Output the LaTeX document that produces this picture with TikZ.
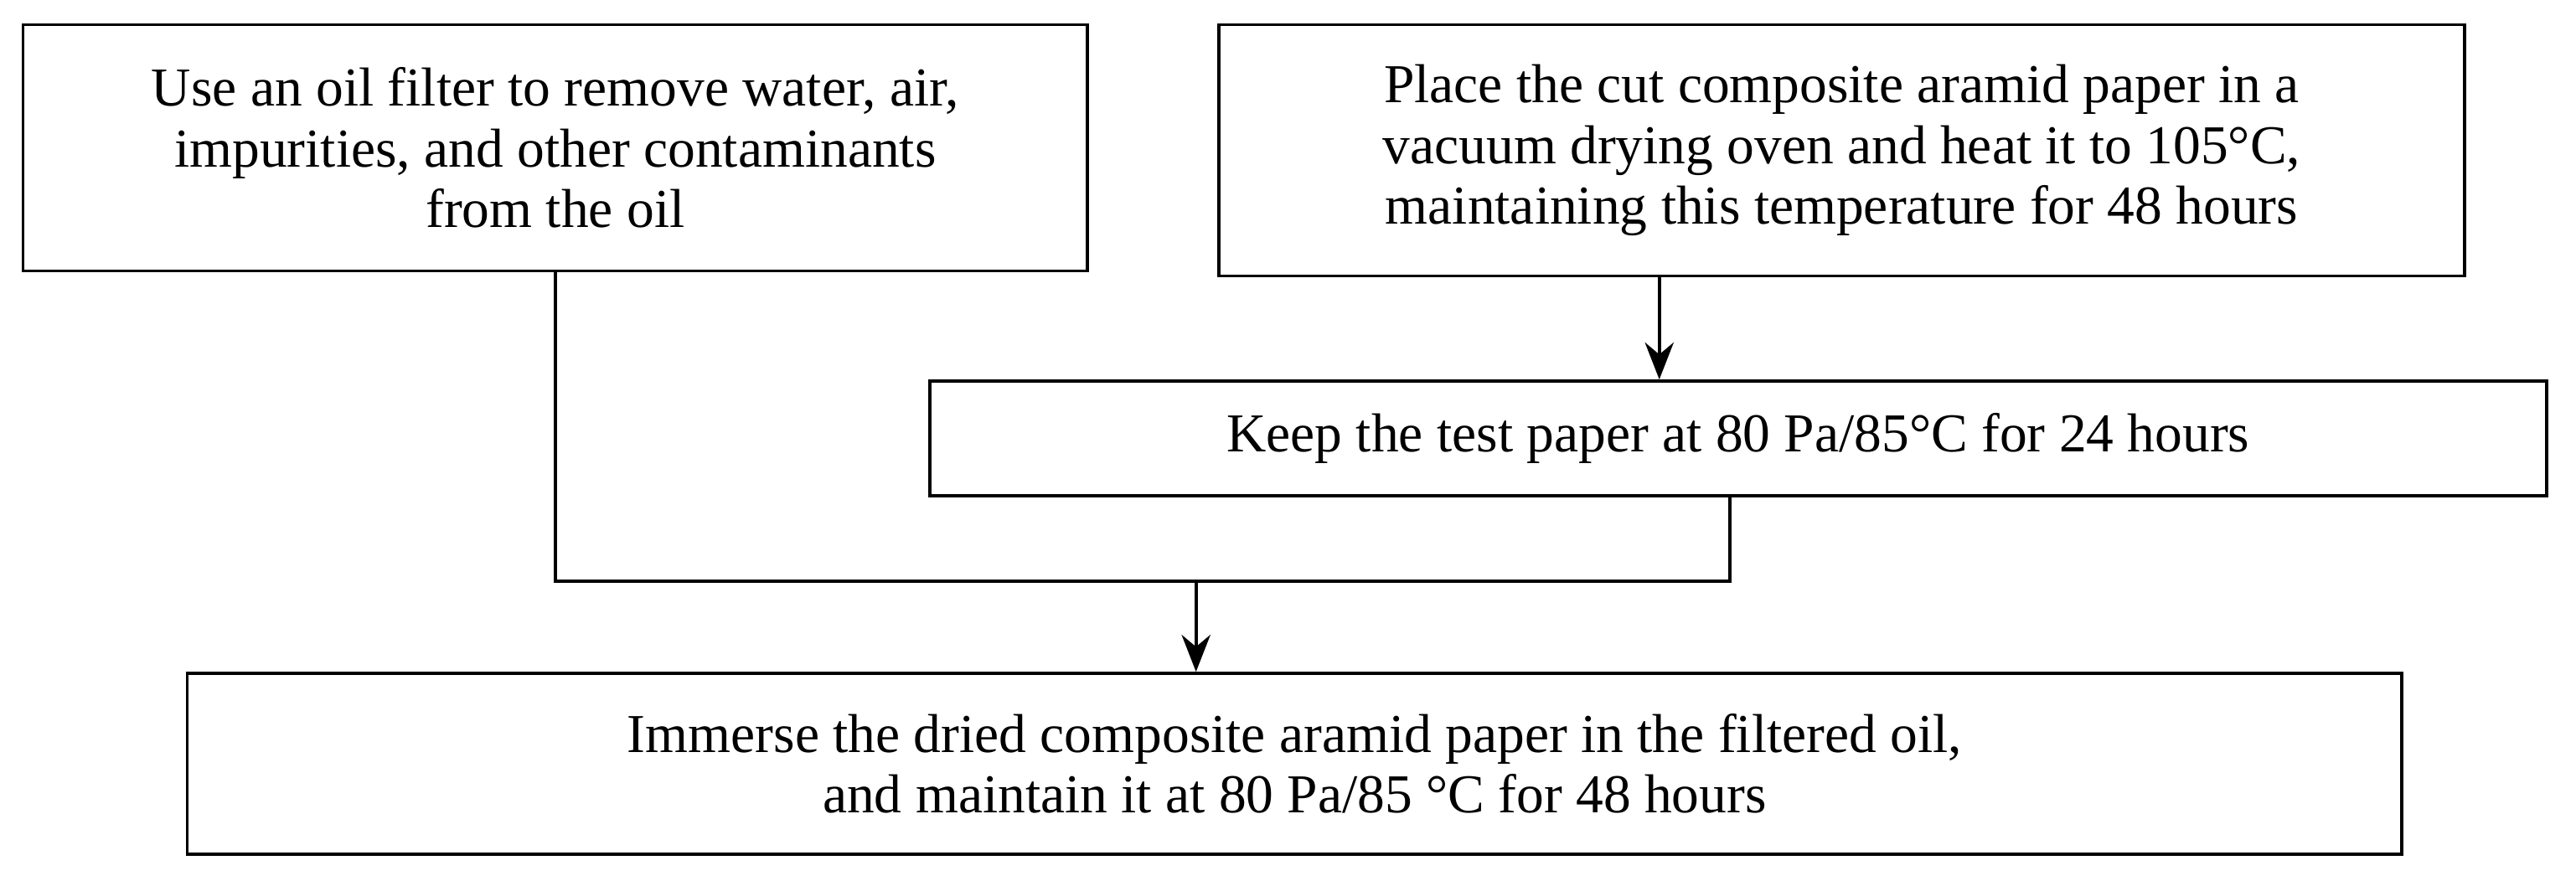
\documentclass[tikz,border=0pt]{standalone}
\usepackage{fontspec}
\setmainfont{Liberation Serif}
\usetikzlibrary{arrows.meta}
\begin{document}
\begin{tikzpicture}[stage/.style={draw,line width=1.1pt,align=center,inner sep=0pt,font=\fontsize{19}{21}\selectfont},
  flow/.style={line width=1.1pt,-{Stealth[length=0.45cm,width=0.35cm]}}]
\useasboundingbox (0,0) rectangle (31.36,-10.72);
\node[stage,minimum width=12.96cm,minimum height=3cm](oil) at (6.76,-1.8){Use an oil filter to remove water, air,\\impurities, and other contaminants\\from the oil};
\node[stage,minimum width=15.16cm,minimum height=3.06cm](oven) at (22.42,-1.83){Place the cut composite aramid paper in a\\vacuum drying oven and heat it to 105°C,\\maintaining this temperature for 48 hours};
\node[stage,minimum width=19.68cm,minimum height=1.4cm](keep) at (21.16,-5.34){Keep the test paper at 80 Pa/85°C for 24 hours};
\node[stage,minimum width=26.96cm,minimum height=2.2cm](imm) at (15.76,-9.3){Immerse the dried composite aramid paper in the filtered oil,\\and maintain it at 80 Pa/85 °C for 48 hours};
\coordinate (ja) at (6.76,-7.08);
\coordinate (jb) at (21.06,-7.08);
\coordinate (jm) at (14.56,-7.08);
\draw[flow](oven.south -| 20.2,0) -- (keep.north -| 20.2,0);
\draw[line width=1.1pt](oil.south) -- (ja) -- (jb) -- (keep.south -| jb);
\draw[flow](jm) -- (imm.north -| jm);
\end{tikzpicture}
\end{document}
